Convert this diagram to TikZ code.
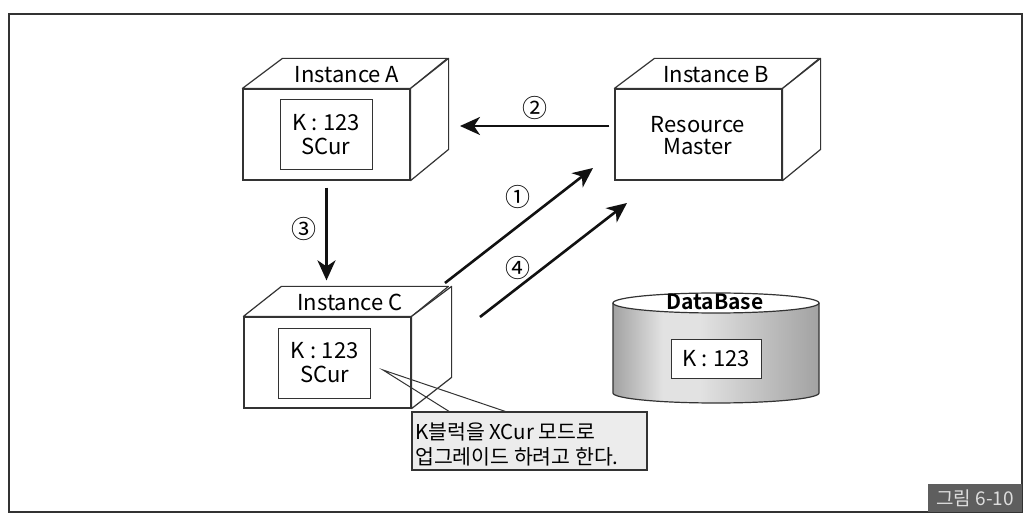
\documentclass[tikz,border=0pt]{standalone}
\usepackage{fontspec}
\setmainfont{Noto Sans CJK KR}[BoldFont={Noto Sans CJK KR Bold}]
\usetikzlibrary{arrows.meta}
\definecolor{ln}{HTML}{333333}
\definecolor{arrc}{HTML}{111111}
\definecolor{dbdark}{HTML}{A2A2A2}
\definecolor{dblight}{HTML}{E2E2E2}
\definecolor{callfill}{HTML}{ECECEC}
\definecolor{tagfill}{HTML}{5E5E5E}
\definecolor{tagtext}{HTML}{DDDDDD}
\newcommand{\kv}{K\hspace{0.25em}:\hspace{0.25em}123}
\pgfdeclarehorizontalshading{dbshade}{100bp}{color(0bp)=(dbdark); color(25bp)=(dbdark); color(37bp)=(dblight); color(46bp)=(dblight); color(75bp)=(dbdark); color(100bp)=(dbdark)}
\begin{document}
\begin{tikzpicture}[x=1pt,y=-1pt,
  cube/.style={draw=ln, line width=1.2pt, line join=round},
  frontface/.style={draw=ln, line width=1.2pt, fill=white, minimum width=167pt, minimum height=91pt, inner sep=0pt},
  innerbox/.style={draw=ln, line width=0.9pt, fill=white, minimum width=92pt, minimum height=70pt, inner sep=0pt, align=center, font=\fontsize{22pt}{24pt}\selectfont},
  title/.style={font=\fontsize{22pt}{24pt}\selectfont, inner sep=0pt},
  num/.style={font=\fontsize{25pt}{26pt}\selectfont, inner sep=0pt},
  arr/.style={draw=arrc, line width=2.6pt, -{Stealth[length=20pt, width=18pt, inset=6pt]}},
]
\useasboundingbox (0,0) rectangle (1034,526);
\fill[white] (0,0) rectangle (1034,526);
% frame
\draw[ln, line width=1.3pt] (9,14) rectangle (1022,512);
\node[fill=tagfill, minimum width=94pt, minimum height=28pt, inner sep=0pt, text=tagtext, font=\fontsize{19pt}{20pt}\selectfont] (tag) at (975,498) {그림 6-10};

% Instance A
\node[frontface] (Af) at (326.5,134.5) {};
\filldraw[cube, fill=white] (Af.north west) -- ++(40,-30) -- ++(165,0) -- (Af.north east) -- cycle;
\filldraw[cube, fill=white] (Af.north east) -- ++(38,-30) -- ++(0,91) -- (Af.south east) -- cycle;
\node[title] (Atitle) at (347,75) {Instance A};
\node[innerbox] (Abox) at (326,134.5) {\kv\\SCur};

% Instance B
\node[frontface] (Bf) at (698.5,134.5) {};
\filldraw[cube, fill=white] (Bf.north west) -- ++(40,-30) -- ++(165,0) -- (Bf.north east) -- cycle;
\filldraw[cube, fill=white] (Bf.north east) -- ++(38,-30) -- ++(0,91) -- (Bf.south east) -- cycle;
\node[title] (Btitle) at (716,75) {Instance B};
\node[align=center, inner sep=0pt, font=\fontsize{22pt}{22pt}\selectfont] (Btext) at (698,136) {Resource\\Master};

% Instance C
\node[frontface] (Cf) at (327.5,362.5) {};
\filldraw[cube, fill=white] (Cf.north west) -- ++(38,-30) -- ++(167,0) -- (Cf.north east) -- cycle;
\filldraw[cube, fill=white] (Cf.north east) -- ++(40,-30) -- ++(0,91) -- (Cf.south east) -- cycle;
\node[title] (Ctitle) at (350,302) {Instance C};
\node[innerbox] (Cbox) at (324.5,363) {\kv\\SCur};

% DataBase cylinder
\shade[shading=dbshade] (613,303) -- (613,393) arc[start angle=180, end angle=360, x radius=103pt, y radius=10pt] -- (819,303) arc[start angle=0, end angle=180, x radius=103pt, y radius=10pt] -- cycle;
\draw[ln, line width=1.2pt] (613,303) -- (613,393) arc[start angle=180, end angle=360, x radius=103pt, y radius=10pt] -- (819,303);
\filldraw[ln, line width=1.2pt, fill=white] (716,303) ellipse [x radius=103pt, y radius=10pt];
\node[inner sep=0pt, font=\fontsize{21pt}{22pt}\selectfont\bfseries] (dbtitle) at (715,302) {DataBase};
\node[draw=ln, line width=0.9pt, fill=white, minimum width=90pt, minimum height=39pt, inner sep=0pt, font=\fontsize{22pt}{24pt}\selectfont] (dbbox) at (716,358.5) {\kv};

% arrows
\coordinate (a2e) at (460,126);
\draw[arr] ([yshift=8.5pt,xshift=-5pt]Bf.west) -- (a2e);
\node[num] (n2) at (535,108) {②};
\draw[arr, shorten <=7pt, shorten >=36pt] (Af.south) -- (Af.south |- Cf.north);
\node[num] (n3) at (304,229) {③};
\coordinate (a1s) at (445,283);
\coordinate (a1e) at (593,168);
\draw[arr] (a1s) -- (a1e);
\node[num] (n1) at (518,197) {①};
\coordinate (a4s) at (480,317);
\coordinate (a4e) at (627,203);
\draw[arr] (a4s) -- (a4e);
\node[num] (n4) at (518,268) {④};

% callout
\coordinate (tip) at (383,370);
\draw[ln, line width=1pt] (450,412) -- (tip) -- (507,412);
\node[draw=ln, line width=1.2pt, fill=callfill, minimum width=235pt, minimum height=58pt, inner sep=0pt] (call) at (529.5,441) {};
\node[anchor=west, align=left, inner sep=0pt, font=\fontsize{20.5pt}{25pt}\selectfont] (calltext) at (415,444.5) {K블럭을 XCur 모드로\\업그레이드 하려고 한다.};
\end{tikzpicture}
\end{document}
